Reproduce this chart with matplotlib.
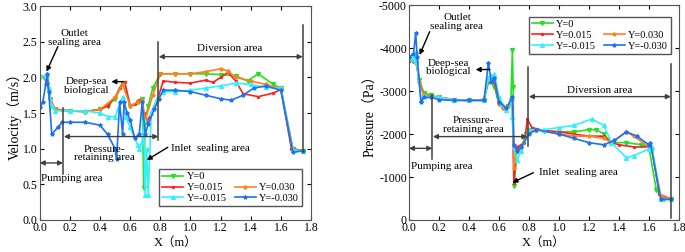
import matplotlib.pyplot as plt
from matplotlib.lines import Line2D

plt.rcParams['font.family'] = ['Liberation Serif', 'Noto Sans CJK SC']
plt.rcParams['axes.unicode_minus'] = False

# ---- velocity (left) ----
vx_g = [0, 0.03, 0.05, 0.07, 0.1, 0.2, 0.3, 0.4, 0.45, 0.5, 0.55, 0.56, 0.6, 0.65, 0.68, 0.69, 0.7, 0.72, 0.75, 0.8,
        0.9, 1.0, 1.1, 1.2, 1.3, 1.38, 1.45, 1.55, 1.6, 1.68, 1.75]
vy_g = [2.0, 2.0, 1.9, 1.7, 1.55, 1.53, 1.52, 1.55, 1.6, 1.7, 1.9, 1.92, 1.6, 1.65, 1.7, 0.45, 1.4, 1.6, 1.85, 2.05,
        2.05, 2.05, 2.05, 2.04, 2.02, 1.95, 2.05, 1.9, 1.85, 1.0, 0.97]
vx_r = [0, 0.03, 0.05, 0.07, 0.1, 0.15, 0.2, 0.3, 0.4, 0.45, 0.5, 0.53, 0.55, 0.565, 0.6, 0.63, 0.66, 0.68, 0.69, 0.71,
        0.73, 0.76, 0.79, 0.82, 0.9, 1.0, 1.1, 1.15, 1.2, 1.25, 1.3, 1.35, 1.45, 1.55, 1.6, 1.67, 1.75]
vy_r = [2.0, 2.0, 1.9, 1.7, 1.56, 1.54, 1.53, 1.52, 1.55, 1.6, 1.72, 1.85, 1.92, 1.93, 1.6, 1.62, 1.68, 1.68, 1.5, 1.37,
        1.45, 1.6, 1.75, 1.95, 1.93, 1.92, 1.96, 1.93, 2.0, 2.07, 1.95, 1.77, 1.73, 1.78, 1.83, 1.0, 0.97]
vx_o = [0, 0.03, 0.05, 0.07, 0.1, 0.2, 0.3, 0.4, 0.5, 0.55, 0.6, 0.65, 0.68, 0.7, 0.75, 0.8, 0.9, 1.0, 1.1, 1.2, 1.25,
        1.3, 1.4, 1.5, 1.6, 1.68, 1.75]
vy_o = [2.0, 2.0, 1.9, 1.7, 1.55, 1.53, 1.52, 1.55, 1.72, 1.9, 1.6, 1.65, 1.68, 1.4, 1.75, 2.05, 2.05, 2.05, 2.08, 2.12,
        2.09, 2.0, 1.95, 1.9, 1.85, 0.98, 0.97]
vx_c = [0, 0.04, 0.05, 0.06, 0.08, 0.1, 0.2, 0.3, 0.4, 0.45, 0.5, 0.52, 0.55, 0.57, 0.6, 0.65, 0.66, 0.68, 0.69, 0.70,
        0.71, 0.72, 0.74, 0.78, 0.82, 0.9, 1.0, 1.1, 1.2, 1.3, 1.4, 1.5, 1.6, 1.68, 1.75]
vy_c = [2.02, 2.02, 2.05, 1.85, 1.6, 1.53, 1.53, 1.53, 1.5, 1.45, 1.45, 1.55, 1.72, 1.45, 1.3, 1.05, 1.0, 1.1, 1.4, 0.35,
        1.0, 0.35, 1.5, 1.7, 1.8, 1.8, 1.82, 1.85, 1.88, 1.92, 1.9, 1.86, 1.85, 0.98, 0.97]
vx_b = [0, 0.02, 0.04, 0.05, 0.06, 0.08, 0.12, 0.15, 0.2, 0.3, 0.4, 0.45, 0.5, 0.51, 0.53, 0.55, 0.56, 0.58, 0.6, 0.63,
        0.66, 0.68, 0.7, 0.72, 0.76, 0.79, 0.82, 0.9, 1.0, 1.1, 1.2, 1.27, 1.35, 1.42, 1.5, 1.6, 1.68, 1.75]
vy_b = [1.58, 1.65, 1.9, 2.05, 1.8, 1.2, 1.3, 1.37, 1.37, 1.37, 1.33, 1.2, 1.0, 0.85, 1.65, 1.2, 1.65, 1.5, 1.4, 1.15,
        1.2, 1.65, 1.2, 1.35, 1.55, 1.7, 1.82, 1.82, 1.8, 1.75, 1.7, 1.68, 1.75, 1.85, 1.88, 1.82, 0.95, 0.97]

# ---- pressure (right) ----
px_g = [0, 0.03, 0.045, 0.05, 0.07, 0.1, 0.15, 0.2, 0.3, 0.4, 0.5, 0.53, 0.55, 0.57, 0.6, 0.63, 0.66, 0.68, 0.69, 0.695,
        0.70, 0.72, 0.75, 0.78, 0.8, 0.85, 0.9, 1.0, 1.1, 1.2, 1.25, 1.3, 1.35, 1.45, 1.55, 1.6, 1.65, 1.7, 1.75]
py_g = [-3700, -3700, -3850, -3650, -3250, -2950, -2900, -2850, -2800, -2780, -2800, -3200, -3300, -3100, -2700, -2600,
        -2650, -2800, -3950, -3100, -800, -1600, -1700, -2000, -2100, -2100, -2080, -2050, -2050, -2100, -2100, -2000,
        -1800, -1800, -1750, -1700, -700, -480, -480]
px_r = [0, 0.03, 0.045, 0.05, 0.07, 0.1, 0.15, 0.2, 0.3, 0.4, 0.5, 0.53, 0.55, 0.57, 0.6, 0.63, 0.66, 0.68, 0.69, 0.70,
        0.72, 0.75, 0.77, 0.79, 0.82, 0.9, 1.0, 1.1, 1.2, 1.3, 1.35, 1.4, 1.5, 1.6, 1.62, 1.67, 1.75]
py_r = [-3700, -3700, -3800, -3650, -3200, -2900, -2880, -2850, -2800, -2780, -2800, -3250, -3300, -3200, -2700, -2600,
        -2650, -2800, -2600, -850, -1700, -1750, -1800, -2350, -2150, -2080, -2050, -2000, -1950, -1950, -1800, -1750,
        -1700, -1700, -1650, -600, -480]
px_o = [0, 0.03, 0.045, 0.05, 0.07, 0.1, 0.2, 0.3, 0.4, 0.5, 0.53, 0.55, 0.57, 0.6, 0.63, 0.66, 0.69, 0.70, 0.72, 0.75,
        0.8, 0.85, 1.0, 1.1, 1.2, 1.3, 1.35, 1.45, 1.5, 1.6, 1.62, 1.68, 1.75]
py_o = [-3750, -3750, -3850, -3650, -3200, -2900, -2850, -2800, -2780, -2800, -3300, -3200, -3300, -2700, -2600, -2650,
        -2800, -1200, -1600, -1700, -2050, -2100, -2000, -1950, -1950, -1900, -1800, -2050, -1950, -1700, -1650, -550,
        -480]
px_c = [0, 0.03, 0.045, 0.05, 0.08, 0.1, 0.2, 0.3, 0.4, 0.5, 0.53, 0.55, 0.57, 0.6, 0.62, 0.65, 0.68, 0.69, 0.70, 0.72,
        0.75, 0.8, 0.9, 1.0, 1.1, 1.22, 1.3, 1.35, 1.45, 1.5, 1.6, 1.62, 1.68, 1.75]
py_c = [-3800, -3750, -3900, -3700, -2800, -2880, -2850, -2800, -2780, -2780, -3300, -3350, -3400, -2850, -2700, -2550,
        -2800, -2400, -1700, -1400, -1600, -2100, -2100, -2150, -2200, -2350, -2200, -1800, -1450, -1500, -1650, -1700,
        -480, -480]
px_b = [0, 0.03, 0.045, 0.055, 0.08, 0.1, 0.15, 0.2, 0.3, 0.4, 0.5, 0.53, 0.55, 0.57, 0.6, 0.65, 0.69, 0.70, 0.72, 0.75,
        0.8, 0.85, 1.0, 1.1, 1.2, 1.3, 1.37, 1.45, 1.52, 1.6, 1.61, 1.68, 1.75]
py_b = [-3800, -3850, -4350, -3800, -2750, -2850, -2850, -2800, -2780, -2780, -2780, -3650, -3200, -3300, -2750, -2600,
        -2850, -1750, -1600, -1700, -2000, -2100, -2000, -1900, -1800, -1750, -1850, -2050, -1950, -1750, -1800, -480,
        -480]

labels = ['Y=0', 'Y=0.015', 'Y=0.030', 'Y=-0.015', 'Y=-0.030']
colors = ['#22e022', '#ff2020', '#ff8020', '#33f0ff', '#2070f0']
markers = ['v', '.', '*', '^', '*']

fig = plt.figure(figsize=(6.85, 2.52), dpi=100)
ax1 = fig.add_axes([0.058, 0.127, 0.396, 0.849])
ax2 = fig.add_axes([0.597, 0.127, 0.394, 0.853])

vel = [(vx_g, vy_g), (vx_r, vy_r), (vx_o, vy_o), (vx_c, vy_c), (vx_b, vy_b)]
pre = [(px_g, py_g), (px_r, py_r), (px_o, py_o), (px_c, py_c), (px_b, py_b)]

fs = 8
arr_c = '#404040'


def draw(ax, data):
    h = []
    for (x, y), lab, c, m in zip(data, labels, colors, markers):
        l, = ax.plot(x, y, color=c, lw=1.2, marker=m, ms=2.8, label=lab)
        h.append(l)
    blank = Line2D([], [], color='none', label=' ')
    # column-major fill -> row1: Y=0 ; row2: 0.015 0.030 ; row3: -0.015 -0.030
    hh = [h[0], h[1], h[3], blank, h[2], h[4]]
    ll = [labels[0], labels[1], labels[3], '', labels[2], labels[4]]
    return hh, ll


def style(ax):
    ax.tick_params(direction='in', top=True, right=True, labelsize=8.5, length=3, pad=1.5)
    ax.set_xlim(0, 1.8)
    ax.set_xticks([0, 0.2, 0.4, 0.6, 0.8, 1.0, 1.2, 1.4, 1.6, 1.8])
    ax.set_xticklabels(['0.0', '0.2', '0.4', '0.6', '0.8', '1.0', '1.2', '1.4', '1.6', '1.8'])
    ax.set_xlabel('X（m）', fontsize=9, labelpad=2)
    for s in ax.spines.values():
        s.set_color('#555555')


def dbl(ax, x0, x1, y):
    ax.annotate('', xy=(x0, y), xytext=(x1, y),
                arrowprops=dict(arrowstyle='<|-|>', color=arr_c, lw=1.0, mutation_scale=7, shrinkA=0, shrinkB=0))


def ptr(ax, xy, xytext):
    ax.annotate('', xy=xy, xytext=xytext,
                arrowprops=dict(arrowstyle='-|>', color='black', lw=1.0, mutation_scale=7, shrinkA=0, shrinkB=0))


leg_kw = dict(ncol=2, fontsize=7.5, frameon=True, fancybox=False, edgecolor='#555555', framealpha=1,
              handlelength=2.0, handletextpad=0.3, columnspacing=0.8, labelspacing=0.15, borderpad=0.3)

# left panel
hh, ll = draw(ax1, vel)
style(ax1)
ax1.set_ylim(0, 3.0)
ax1.set_yticks([0, 0.5, 1.0, 1.5, 2.0, 2.5, 3.0])
ax1.set_yticklabels(['0.0', '0.5', '1.0', '1.5', '2.0', '2.5', '3.0'])
ax1.set_ylabel('Velocity（m/s）', fontsize=10, labelpad=1)
ax1.plot([0.155, 0.155], [0.65, 1.57], color=arr_c, lw=1.1)
ax1.plot([0.787, 0.787], [1.12, 2.5], color=arr_c, lw=1.1)
ax1.plot([1.745, 1.745], [0.96, 2.73], color=arr_c, lw=1.1)
dbl(ax1, 0.0, 0.155, 0.80)
dbl(ax1, 0.16, 0.787, 1.17)
dbl(ax1, 0.79, 1.745, 2.29)
ax1.text(0.01, 0.58, 'Pumping area', fontsize=fs, va='center')
ax1.text(0.43, 0.93, 'Pressure-\nretaining area', fontsize=fs, ha='center', va='center', linespacing=0.95)
ax1.text(1.26, 2.4, 'Diversion area', fontsize=fs, ha='center', va='center')
ax1.text(0.23, 2.55, 'Outlet\nsealing area', fontsize=fs, ha='center', va='center', linespacing=0.95)
ptr(ax1, (0.045, 2.08), (0.12, 2.43))
ax1.text(0.31, 1.88, 'Deep-sea\nbiological', fontsize=fs, ha='center', va='center', linespacing=0.95)
ptr(ax1, (0.475, 1.94), (0.555, 1.94))
ax1.text(0.87, 1.0, 'Inlet  sealing area', fontsize=fs, va='center')
ptr(ax1, (0.71, 0.84), (0.85, 1.02))
ax1.legend(hh, ll, loc='lower right', bbox_to_anchor=(0.985, 0.04), **leg_kw)

# right panel
hh, ll = draw(ax2, pre)
style(ax2)
ax2.set_ylim(0, -5000)
ax2.set_yticks([0, -1000, -2000, -3000, -4000, -5000])
ax2.set_ylabel('Pressure（Pa）', fontsize=10, labelpad=1)
ax2.plot([0.156, 0.156], [-2910, -1430], color=arr_c, lw=1.1)
ax2.plot([0.797, 0.797], [-3570, -1720], color=arr_c, lw=1.1)
ax2.plot([1.747, 1.747], [-3640, -40], color=arr_c, lw=1.1)
dbl(ax2, 0.0, 0.156, -1667)
dbl(ax2, 0.16, 0.79, -1940)
dbl(ax2, 0.80, 1.747, -2870)
ax2.text(0.015, -1255, 'Pumping area', fontsize=fs, va='center')
ax2.text(0.43, -2210, 'Pressure-\nretaining area', fontsize=fs, ha='center', va='center', linespacing=0.95)
ax2.text(1.27, -3020, 'Diversion area', fontsize=fs, ha='center', va='center')
ax2.text(0.32, -4600, 'Outlet\nsealing area', fontsize=fs, ha='center', va='center', linespacing=0.95)
ptr(ax2, (0.071, -3840), (0.138, -4380))
ax2.text(0.26, -3550, 'Deep-sea\nbiological', fontsize=fs, ha='center', va='center', linespacing=0.95)
ptr(ax2, (0.445, -3500), (0.54, -3500))
ax2.text(0.87, -1100, 'Inlet  sealing area', fontsize=fs, va='center')
ptr(ax2, (0.69, -870), (0.83, -1100))
ax2.legend(hh, ll, loc='upper right', bbox_to_anchor=(0.99, 0.97), **leg_kw)

fig.savefig('out.png', dpi=100)
